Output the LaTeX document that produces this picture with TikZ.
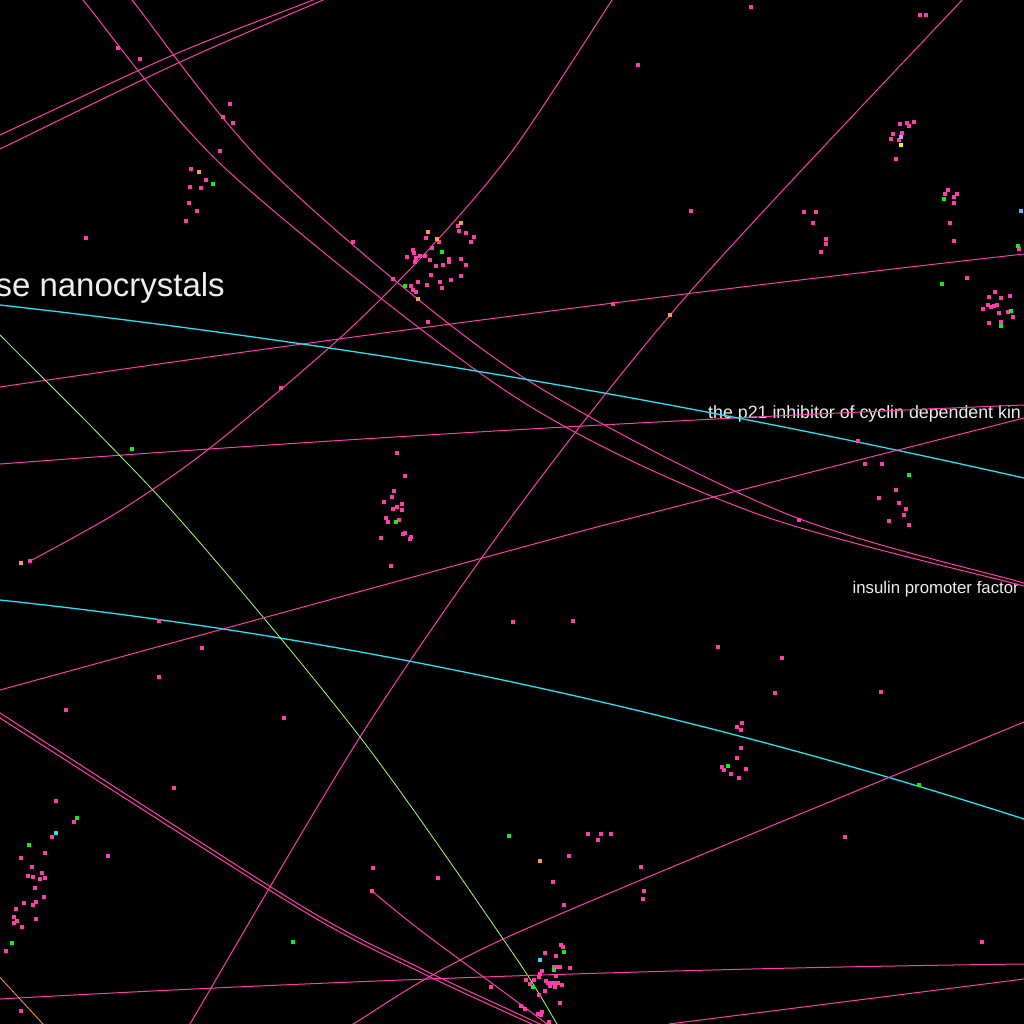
\documentclass[tikz,border=0pt]{standalone}
\usepackage{fontspec}
\setmainfont{Liberation Sans}
\definecolor{hot}{HTML}{FF3CAA}
\definecolor{cy}{HTML}{22E4F2}
\definecolor{yg}{HTML}{A6FF6E}
\definecolor{gr}{HTML}{11EE11}
\definecolor{org}{HTML}{FF9A4A}
\definecolor{lb}{HTML}{66B3FF}
\definecolor{lav}{HTML}{B0A0FF}
\definecolor{txt}{HTML}{EEEEEE}
\tikzset{
dot/.style={inner sep=0pt,minimum size=3.5pt,draw=none},
pk/.style={dot,fill=hot},
gn/.style={dot,fill=gr},
og/.style={dot,fill=org},
edge/.style={hot,line width=1pt},
cedge/.style={cy,line width=1.3pt},
lbl/.style={inner sep=0pt,text=txt}
}
\begin{document}
\begin{tikzpicture}[x=1pt,y=-1pt]
\useasboundingbox(0,0)rectangle(1024,1024);
\fill[black](0,0)rectangle(1024,1024);
\clip(0,0)rectangle(1024,1024);
\node[lbl,anchor=base east,font=\fontsize{33}{33}\selectfont](nano)at(225,296){se nanocrystals};
\node[lbl,anchor=base west,font=\fontsize{17.8}{18}\selectfont](p21)at(708,418){the p21 inhibitor of cyclin dependent kin};
\node[lbl,anchor=base east,font=\fontsize{16.8}{17}\selectfont](ipf)at(1019,593){insulin promoter factor};
\node[pk](src)at(30,561){};
\node[pk](hub)at(372,891){};
\draw[edge]plot[smooth]coordinates{(-10,140)(0,135)(173,55)(313,0)(330,-8)};
\draw[edge]plot[smooth]coordinates{(-10,154)(0,149)(178,63)(323,0)(340,-8)};
\draw[edge]plot[smooth]coordinates{(75,-10)(83,0)(227,170)(512,395)(752,512)(1024,586)(1040,590)};
\draw[edge]plot[smooth]coordinates{(124,-10)(132,0)(270,170)(512,370)(782,512)(1024,583)(1040,587)};
\draw[edge]plot[smooth]coordinates{(src.center)(118,512)(210,448)(340,338)(430,248)(513,150)(612,0)(618,-10)};
\draw[edge]plot[smooth]coordinates{(972,-10)(962,0)(689,293)(515,512)(360,737)(190,1024)(184,1036)};
\draw[edge](0,387)..controls(341.3,336.7)and(682.7,292.3)..(1024,254);
\draw[edge](0,464)..controls(341.3,438.3)and(682.7,418.7)..(1024,405);
\draw[cedge](0,305)..controls(341.3,343.3)and(682.7,401)..(1024,478);
\draw[cedge](0,600)..controls(341.3,636.3)and(682.7,709.3)..(1024,819);
\draw[yg,line width=.8pt]plot[smooth]coordinates{(-10,325)(0,335)(173,512)(360,737)(512,952)(557,1024)(564,1036)};
\draw[edge]plot[smooth]coordinates{(-10,693)(0,690)(512,550)(655,512)(1024,418)(1040,414)};
\draw[edge](0,999)..controls(341.3,980)and(682.7,968.3)..(1024,964);
\draw[edge](669,1024)--(1024,979)--(1040,977);
\draw[edge]plot[smooth]coordinates{(340,1032)(353,1024)(512,935)(1024,722)(1040,716)};
\draw[edge]plot[smooth]coordinates{(-10,707)(0,713)(300,905)(420,968)(512,1011)(540,1024)(560,1034)};
\draw[edge]plot[smooth]coordinates{(-10,712)(0,718)(300,909)(420,972)(512,1015)(532,1024)(552,1034)};
\draw[edge]plot[smooth]coordinates{(hub.center)(420,930)(512,998)(547,1024)(560,1034)};
\draw[org,line width=.8pt](-5,972)--(43,1024)--(50,1032);
\foreach \x/\y[count=\i]in{118/48,140/59,230/104,223/117,233/123,220/151,191/169,206/180,190/187,201/188,189/203,197/211,186/221,86/238,353/242,
458/226,459/231,466/233,474/237,471/242,426/238,439/242,432/248,413/250,414/253,407/257,420/256,425/256,416/258,415/262,430/260,449/259,449/262,461/259,466/265,436/266,443/265,431/275,461/276,451/280,418/282,427/285,440/282,442/288,393/279,411/286,413/290,416/292,428/322,
281/388,397/453,405/476,394/491,392/497,384/502,397/507,402/504,393/509,402/510,
751/7,920/15,926/15,638/65,900/124,907/123,909/126,914/122,893/134,902/133,891/139,899/140,896/159,691/211,804/212,816/212,813/223,826/239,826/244,821/252,948/190,945/194,957/194,954/197,954/203,950/223,954/241,1019/249,967/278,613/304,
995/292,989/297,1001/298,1010/296,988/305,983/309,991/307,994/306,997/305,1008/312,999/313,1013/317,989/323,1001/322,
858/441,865/464,882/464,896/490,879/498,899/503,906/509,904/515,889/521,909/525,799/520,
386/518,388/522,399/520,381/538,403/534,405/533,411/537,410/539,391/566,159/621,202/648,159/677,66/710,284/718,174/788,56/801,74/822,52/837,45/853,21/858,108/856,32/867,28/876,33/877,42/873,40/879,45/878,35/888,44/897,24/903,36/902,33/905,16/909,14/917,36/919,17/921,14/923,22/927,6/951,21/1011,373/868,438/878,491/987,
513/622,573/621,718/647,782/658,775/693,881/692,742/723,737/727,741/730,741/748,737/758,722/767,724/770,746/769,731/774,739/778,845/837,588/834,601/834,611/834,598/840,569/856,641/867,553/882,644/891,643/899,564/905,982/942,
561/945,563/947,545/953,556/956,570/968,554/967,557/967,560/967,542/971,540/974,539/977,556/976,526/980,534/980,546/981,548/983,552/983,554/983,530/984,558/983,550/986,555/987,562/985,545/991,539/995,560/1003,521/1006,525/1009,542/1012,538/1014,541/1015,549/1022}
\node[pk](p\i)at(\x,\y){};
\foreach \x/\y[count=\i]in{213/184,442/252,405/286,132/449,944/199,1018/246,942/284,1011/311,1001/326,909/475,396/522,77/818,29/845,12/943,293/942,509/836,728/766,919/785,564/952,554/970,533/987}
\node[gn](g\i)at(\x,\y){};
\foreach \x/\y[count=\i]in{199/172,461/223,428/232,437/239,418/299,670/315,21/563,540/861}
\node[og](o\i)at(\x,\y){};
\node[dot,fill=cy](c1)at(56,833){};
\node[dot,fill=cy](c2)at(540,960){};
\node[dot,fill=lb](b1)at(1021,211){};
\node[dot,fill=lav](v1)at(901,137){};
\node[dot,fill=yellow](y1)at(901,145){};
\end{tikzpicture}
\end{document}
